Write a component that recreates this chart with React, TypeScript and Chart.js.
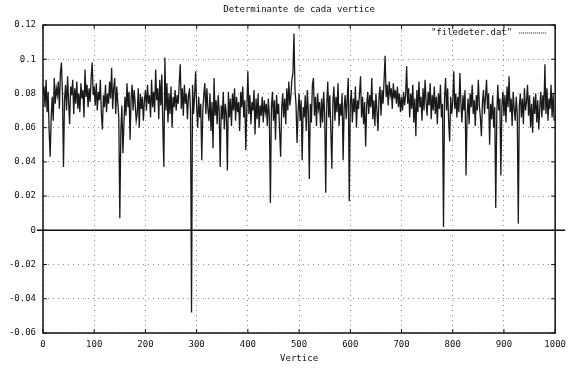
import React, { useEffect, useRef } from "react";
import { Chart, registerables } from "chart.js";

Chart.register(...registerables);

// Determinant of every second vertex, grouped by hundreds of vertices.
const det000 = [
  0.080, 0.084, 0.072, 0.088, 0.069, 0.081, 0.058, 0.043, 0.066, 0.078,
  0.064, 0.089, 0.074, 0.083, 0.079, 0.087, 0.071, 0.092, 0.098, 0.080,
  0.037, 0.076, 0.085, 0.070, 0.090, 0.075, 0.062, 0.084, 0.079, 0.088,
  0.068, 0.083, 0.074, 0.087, 0.071, 0.080, 0.069, 0.086, 0.077, 0.082,
  0.066, 0.094, 0.078, 0.085, 0.072, 0.083, 0.075, 0.089, 0.098, 0.079,
];
const det100 = [
  0.084, 0.073, 0.086, 0.070, 0.081, 0.076, 0.088, 0.068, 0.059, 0.079,
  0.072, 0.085, 0.069, 0.080, 0.074, 0.087, 0.077, 0.095, 0.071, 0.083,
  0.089, 0.068, 0.084, 0.075, 0.066, 0.007, 0.058, 0.073, 0.045, 0.062,
  0.078, 0.067, 0.086, 0.072, 0.081, 0.053, 0.077, 0.085, 0.070, 0.082,
  0.074, 0.064, 0.068, 0.083, 0.060, 0.080, 0.071, 0.078, 0.064, 0.076,
];
const det200 = [
  0.082, 0.070, 0.085, 0.074, 0.079, 0.066, 0.088, 0.072, 0.081, 0.069,
  0.094, 0.076, 0.083, 0.065, 0.088, 0.073, 0.091, 0.060, 0.037, 0.101,
  0.070, 0.086, 0.063, 0.080, 0.068, 0.084, 0.060, 0.078, 0.072, 0.082,
  0.070, 0.079, 0.074, 0.086, 0.097, 0.071, 0.083, 0.067, 0.085, 0.074,
  0.080, 0.065, 0.078, 0.083, 0.070, -0.048, 0.085, 0.068, 0.079, 0.093,
];
const det300 = [
  0.072, 0.060, 0.078, 0.066, 0.074, 0.041, 0.070, 0.079, 0.086, 0.068,
  0.083, 0.071, 0.064, 0.080, 0.058, 0.075, 0.048, 0.089, 0.067, 0.076,
  0.062, 0.079, 0.070, 0.037, 0.073, 0.065, 0.081, 0.059, 0.074, 0.068,
  0.035, 0.081, 0.066, 0.077, 0.061, 0.080, 0.070, 0.083, 0.064, 0.078,
  0.069, 0.075, 0.058, 0.081, 0.072, 0.084, 0.066, 0.076, 0.047, 0.071,
];
const det400 = [
  0.093, 0.068, 0.079, 0.062, 0.075, 0.070, 0.082, 0.056, 0.077, 0.065,
  0.080, 0.060, 0.073, 0.067, 0.078, 0.063, 0.076, 0.069, 0.074, 0.061,
  0.077, 0.066, 0.016, 0.072, 0.081, 0.064, 0.076, 0.053, 0.079, 0.068,
  0.074, 0.058, 0.043, 0.071, 0.080, 0.066, 0.077, 0.062, 0.083, 0.070,
  0.087, 0.073, 0.079, 0.088, 0.092, 0.115, 0.082, 0.074, 0.051, 0.069,
];
const det500 = [
  0.080, 0.064, 0.076, 0.041, 0.072, 0.066, 0.079, 0.058, 0.082, 0.070,
  0.030, 0.074, 0.063, 0.085, 0.089, 0.067, 0.078, 0.061, 0.080, 0.071,
  0.075, 0.060, 0.077, 0.063, 0.081, 0.068, 0.022, 0.073, 0.087, 0.066,
  0.079, 0.058, 0.036, 0.075, 0.084, 0.064, 0.078, 0.069, 0.086, 0.061,
  0.074, 0.067, 0.080, 0.041, 0.072, 0.079, 0.065, 0.077, 0.089, 0.017,
];
const det600 = [
  0.074, 0.082, 0.063, 0.077, 0.069, 0.084, 0.060, 0.076, 0.071, 0.080,
  0.090, 0.066, 0.078, 0.062, 0.075, 0.049, 0.073, 0.081, 0.068, 0.079,
  0.072, 0.089, 0.065, 0.076, 0.061, 0.080, 0.070, 0.058, 0.077, 0.084,
  0.067, 0.082, 0.074, 0.088, 0.102, 0.078, 0.085, 0.073, 0.087, 0.079,
  0.083, 0.071, 0.086, 0.077, 0.082, 0.074, 0.084, 0.072, 0.080, 0.069,
];
const det700 = [
  0.078, 0.070, 0.081, 0.073, 0.079, 0.096, 0.074, 0.083, 0.066, 0.080,
  0.071, 0.085, 0.063, 0.077, 0.055, 0.082, 0.069, 0.087, 0.072, 0.078,
  0.064, 0.083, 0.070, 0.088, 0.075, 0.067, 0.081, 0.073, 0.086, 0.065,
  0.079, 0.070, 0.084, 0.068, 0.078, 0.062, 0.080, 0.071, 0.085, 0.066,
  0.074, 0.002, 0.077, 0.089, 0.070, 0.083, 0.064, 0.052, 0.078, 0.068,
];
const det800 = [
  0.075, 0.093, 0.071, 0.080, 0.066, 0.078, 0.069, 0.092, 0.074, 0.063,
  0.079, 0.070, 0.082, 0.032, 0.067, 0.077, 0.062, 0.080, 0.072, 0.085,
  0.068, 0.076, 0.061, 0.079, 0.070, 0.088, 0.073, 0.066, 0.055, 0.075,
  0.082, 0.068, 0.078, 0.088, 0.071, 0.080, 0.050, 0.074, 0.065, 0.079,
  0.060, 0.072, 0.013, 0.068, 0.085, 0.070, 0.077, 0.032, 0.073, 0.081,
];
const det900 = [
  0.067, 0.079, 0.063, 0.084, 0.072, 0.090, 0.069, 0.077, 0.061, 0.081,
  0.071, 0.064, 0.078, 0.068, 0.004, 0.073, 0.080, 0.066, 0.077, 0.062,
  0.083, 0.070, 0.075, 0.085, 0.067, 0.079, 0.060, 0.074, 0.057, 0.078,
  0.068, 0.080, 0.063, 0.076, 0.059, 0.072, 0.081, 0.066, 0.079, 0.070,
  0.097, 0.068, 0.083, 0.064, 0.077, 0.071, 0.085, 0.066, 0.080, 0.064,
];

const VERTEX_STEP = 2;
const determinants = [
  ...det000, ...det100, ...det200, ...det300, ...det400,
  ...det500, ...det600, ...det700, ...det800, ...det900,
];

const xTickValues = [0, 100, 200, 300, 400, 500, 600, 700, 800, 900, 1000];
const yTickValues = [-0.06, -0.04, -0.02, 0, 0.02, 0.04, 0.06, 0.08, 0.1, 0.12];

const TITLE = "Determinante de cada vertice";
const X_TITLE = "Vertice";
const SERIES_NAME = '"filedeter.dat"';

const FONT_FAMILY = "'DejaVu Sans Mono', 'Liberation Mono', monospace";
const INK = "#111";
const GRID_COLOR = "rgba(0,0,0,0.45)";

// Frame, inward tick marks, the y=0 axis, title and key, gnuplot style.
const gnuplotDecor = {
  id: "gnuplotDecor",
  afterDraw(chart: any) {
    const { ctx, chartArea: a, scales } = chart;
    ctx.save();
    ctx.strokeStyle = INK;

    // plot border
    ctx.lineWidth = 1.5;
    ctx.strokeRect(a.left, a.top, a.right - a.left, a.bottom - a.top);

    // zero axis
    const y0 = scales.y.getPixelForValue(0);
    ctx.beginPath();
    ctx.moveTo(a.left - 6, y0);
    ctx.lineTo(a.right + 10, y0);
    ctx.stroke();

    // inward tick marks on all four sides
    ctx.lineWidth = 1;
    ctx.beginPath();
    for (const v of yTickValues) {
      const py = scales.y.getPixelForValue(v);
      ctx.moveTo(a.left, py);
      ctx.lineTo(a.left + 4, py);
      ctx.moveTo(a.right - 4, py);
      ctx.lineTo(a.right, py);
    }
    for (const v of xTickValues) {
      const px = scales.x.getPixelForValue(v);
      ctx.moveTo(px, a.bottom);
      ctx.lineTo(px, a.bottom - 4);
      ctx.moveTo(px, a.top);
      ctx.lineTo(px, a.top + 4);
    }
    ctx.stroke();

    // title
    ctx.fillStyle = INK;
    ctx.font = `9px ${FONT_FAMILY}`;
    ctx.textAlign = "center";
    ctx.textBaseline = "middle";
    ctx.fillText(TITLE, (a.left + a.right) / 2, 10);

    // key
    const keyY = a.top + 8;
    ctx.textAlign = "right";
    ctx.fillText(SERIES_NAME, a.right - 43, keyY);
    ctx.setLineDash([1, 1]);
    ctx.beginPath();
    ctx.moveTo(a.right - 36, keyY);
    ctx.lineTo(a.right - 9, keyY);
    ctx.stroke();

    ctx.restore();
  },
};

function formatY(v: number) {
  return String(Number(v.toFixed(2)));
}

export default function App() {
  const canvasRef = useRef<HTMLCanvasElement | null>(null);

  useEffect(() => {
    document.body.style.margin = "0";
    const canvas = canvasRef.current;
    if (!canvas) return;

    const points = determinants.map((y, i) => ({ x: i * VERTEX_STEP, y }));

    const chart = new Chart(canvas, {
      type: "line",
      data: {
        datasets: [
          {
            label: SERIES_NAME,
            data: points,
            borderColor: "rgba(0,0,0,0.9)",
            borderWidth: 1.3,
            pointRadius: 0,
            tension: 0,
            fill: false,
          },
        ],
      },
      options: {
        animation: false,
        responsive: true,
        maintainAspectRatio: false,
        layout: { padding: { top: 25, right: 16, bottom: 0, left: 0 } },
        plugins: {
          legend: { display: false },
          title: { display: false },
          tooltip: { enabled: false },
        },
        scales: {
          x: {
            type: "linear",
            min: 0,
            max: 1000,
            afterBuildTicks: (scale: any) => {
              scale.ticks = xTickValues.map((value) => ({ value }));
            },
            afterFit: (scale: any) => {
              scale.height = 36;
            },
            border: { display: false, dash: [1, 4] },
            grid: {
              color: GRID_COLOR,
              lineWidth: 1,
              drawTicks: false,
            },
            ticks: {
              color: INK,
              padding: 6,
              maxRotation: 0,
              autoSkip: false,
              font: { family: FONT_FAMILY, size: 9 },
              callback: (v: any) => String(v),
            },
            title: {
              display: true,
              text: X_TITLE,
              color: INK,
              font: { family: FONT_FAMILY, size: 9 },
              padding: { top: 0, bottom: 5 },
            },
          },
          y: {
            type: "linear",
            min: -0.06,
            max: 0.12,
            afterBuildTicks: (scale: any) => {
              scale.ticks = yTickValues.map((value) => ({ value }));
            },
            afterFit: (scale: any) => {
              scale.width = 43;
            },
            border: { display: false, dash: [1, 4] },
            grid: {
              color: GRID_COLOR,
              lineWidth: 1,
              drawTicks: false,
            },
            ticks: {
              color: INK,
              padding: 7,
              autoSkip: false,
              font: { family: FONT_FAMILY, size: 9 },
              callback: (v: any) => formatY(Number(v)),
            },
          },
        },
      },
      plugins: [gnuplotDecor],
    });

    return () => chart.destroy();
  }, []);

  return (
    <div style={{ position: "relative", width: 572, height: 369 }}>
      <canvas ref={canvasRef} />
    </div>
  );
}
